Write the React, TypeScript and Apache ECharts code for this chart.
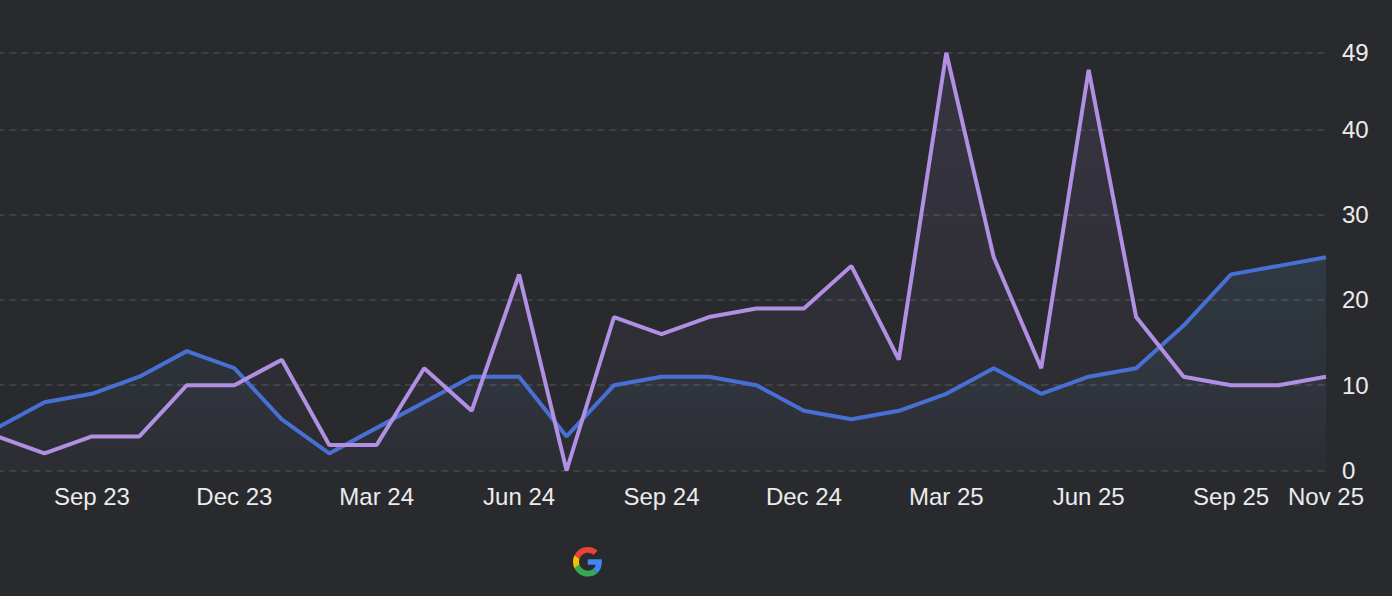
import React, { useEffect, useRef } from "react";
import * as echarts from "echarts";

const months = [
  "Jul 23", "Aug 23", "Sep 23", "Oct 23", "Nov 23", "Dec 23",
  "Jan 24", "Feb 24", "Mar 24", "Apr 24", "May 24", "Jun 24",
  "Jul 24", "Aug 24", "Sep 24", "Oct 24", "Nov 24", "Dec 24",
  "Jan 25", "Feb 25", "Mar 25", "Apr 25", "May 25", "Jun 25",
  "Jul 25", "Aug 25", "Sep 25", "Oct 25", "Nov 25",
];

const blueValues = [5, 8, 9, 11, 14, 12, 6, 2, 5, 8, 11, 11, 4, 10, 11, 11, 10, 7, 6, 7, 9, 12, 9, 11, 12, 17, 23, 24, 25];
const purpleValues = [4, 2, 4, 4, 10, 10, 13, 3, 3, 12, 7, 23, 0, 18, 16, 18, 19, 19, 24, 13, 49, 25, 12, 47, 18, 11, 10, 10, 11];

const yMin = 0;
const yMax = 49;
const yInterval = 10;

const G_RED = "M24 9.5c3.54 0 6.71 1.22 9.21 3.6l6.85-6.85C35.9 2.38 30.47 0 24 0 14.62 0 6.51 5.38 2.56 13.22l7.98 6.19C12.43 13.72 17.74 9.5 24 9.5z";
const G_BLUE = "M46.98 24.55c0-1.57-.15-3.09-.38-4.55H24v9.02h12.94c-.58 2.96-2.26 5.48-4.78 7.18l7.73 6c4.51-4.18 7.090-10.36 7.09-17.65z";
const G_YELLOW = "M10.53 28.59c-.48-1.450-.76-2.990-.76-4.59s.27-3.14.76-4.59l-7.98-6.19C.92 16.46 0 20.12 0 24c0 3.88.92 7.54 2.56 10.78l7.97-6.19z";
const G_GREEN = "M24 48c6.48 0 11.93-2.13 15.89-5.81l-7.73-6c-2.15 1.45-4.92 2.3-8.160 2.3-6.26 0-11.57-4.22-13.47-9.91l-7.98 6.19C6.51 42.62 14.62 48 24 48z";

echarts.graphic.registerShape("gRed", echarts.graphic.extendPath(G_RED, {}));
echarts.graphic.registerShape("gBlue", echarts.graphic.extendPath(G_BLUE, {}));
echarts.graphic.registerShape("gYellow", echarts.graphic.extendPath(G_YELLOW, {}));
echarts.graphic.registerShape("gGreen", echarts.graphic.extendPath(G_GREEN, {}));

const FONT = "'Liberation Sans', Arial, Helvetica, sans-serif";
const OFFSET = 3.5;

export default function App() {
  const ref = useRef<HTMLDivElement>(null);

  useEffect(() => {
    document.body.style.margin = "0";
    if (!ref.current) return;
    const chart = echarts.init(ref.current, null, { renderer: "svg" });
    const logoScale = 29.5 / 48;
    const logoStyle = (fill: string) => ({ fill });
    chart.setOption({
      animation: false,
      backgroundColor: "#292a2e",
      grid: { left: 0, right: 67, top: 52.7, bottom: 125.5, containLabel: false },
      xAxis: {
        type: "category",
        data: months,
        boundaryGap: false,
        axisLine: { show: false },
        axisTick: { show: false },
        splitLine: { show: false },
        axisLabel: {
          color: "#ececec",
          fontSize: 24,
          fontFamily: FONT,
          margin: 14,
          interval: (index: number) => index % 3 === 2 || index === months.length - 1,
        },
      },
      yAxis: {
        type: "value",
        position: "right",
        min: yMin,
        max: yMax,
        interval: yInterval,
        axisLine: { show: false },
        axisTick: { show: false },
        axisLabel: {
          color: "#ececec",
          fontSize: 24,
          fontFamily: FONT,
          margin: 16,
        },
        splitLine: {
          show: true,
          lineStyle: { color: "#45474c", width: 1.5, type: [7.5, 4.5] },
        },
      },
      series: [
        {
          type: "line",
          data: blueValues,
          symbol: "none",
          lineStyle: { color: "#4870d4", width: 4 },
          itemStyle: { color: "#4870d4" },
          areaStyle: {
            color: new echarts.graphic.LinearGradient(0, 0, 0, 1, [
              { offset: 0, color: "rgba(90,160,200,0.19)" },
              { offset: 1, color: "rgba(90,160,200,0.02)" },
            ]),
          },
        },
        {
          type: "line",
          data: purpleValues,
          symbol: "none",
          lineStyle: { color: "#b18fe2", width: 4 },
          itemStyle: { color: "#b18fe2" },
          areaStyle: {
            color: new echarts.graphic.LinearGradient(0, 0, 0, 1, [
              { offset: 0, color: "rgba(178,142,226,0.15)" },
              { offset: 1, color: "rgba(178,142,226,0.02)" },
            ]),
          },
        },
      ],
      graphic: [
        {
          type: "group",
          x: 572.5 + OFFSET,
          y: 547,
          scaleX: logoScale,
          scaleY: logoScale,
          children: [
            { type: "gRed", style: logoStyle("#EA4335") },
            { type: "gBlue", style: logoStyle("#4285F4") },
            { type: "gYellow", style: logoStyle("#FBBC05") },
            { type: "gGreen", style: logoStyle("#34A853") },
          ],
        },
      ],
    });
    return () => chart.dispose();
  }, []);

  return (
    <div style={{ position: "fixed", left: 0, top: 0, width: 1392, height: 596, background: "#292a2e", overflow: "hidden" }}>
      <div ref={ref} style={{ position: "absolute", left: -OFFSET, top: 0, width: 1392 + OFFSET, height: 596 }} />
    </div>
  );
}
